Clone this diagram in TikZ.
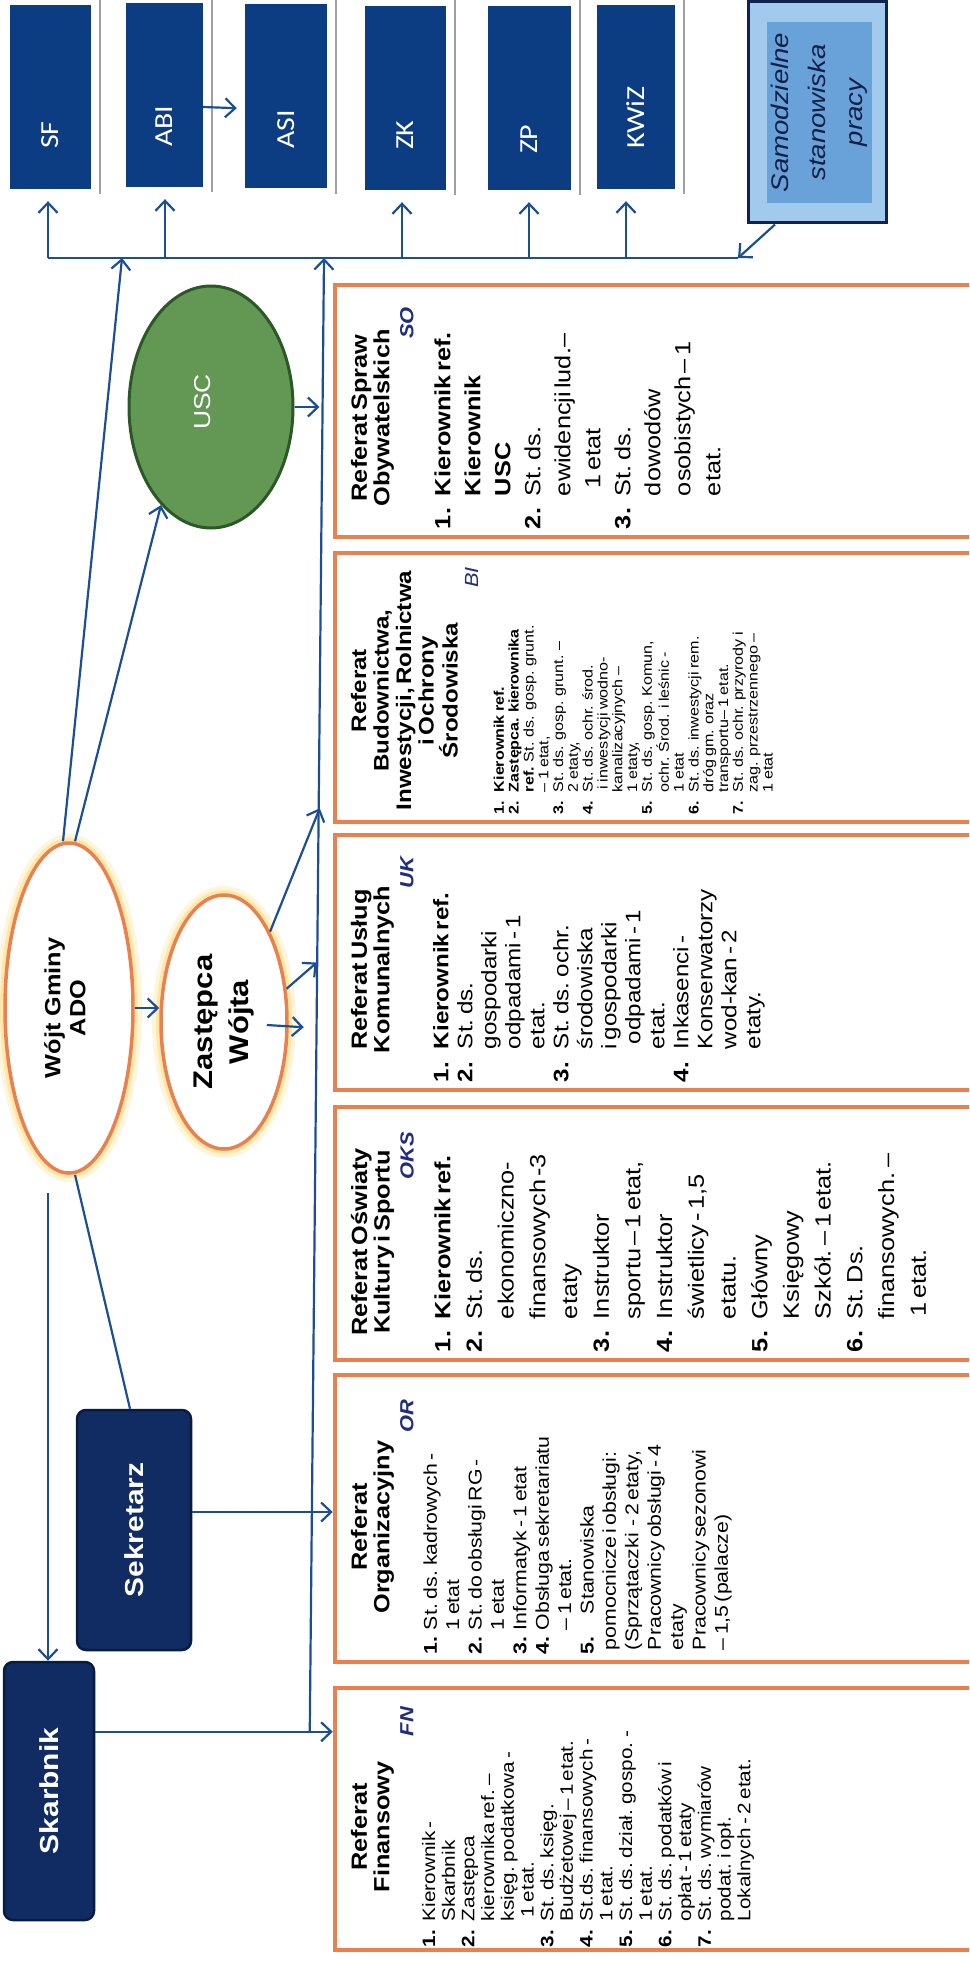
\documentclass[tikz,border=0pt]{standalone}
\usepackage{fontspec}
\setmainfont{Liberation Sans}[FakeStretch=1.15]
\newfontfamily\calibfont{Carlito}[FakeStretch=1.15]
\usetikzlibrary{arrows.meta,shapes.geometric,calc}
\definecolor{navy}{RGB}{12,60,130}
\definecolor{darknavy}{RGB}{16,44,98}
\definecolor{darkborder}{RGB}{8,28,66}
\definecolor{lineblue}{RGB}{28,78,150}
\definecolor{orangec}{RGB}{234,128,78}
\definecolor{codeblue}{RGB}{32,44,128}
\definecolor{uscfill}{RGB}{98,152,84}
\definecolor{uscborder}{RGB}{44,88,40}
\definecolor{samborder}{RGB}{16,34,78}
\definecolor{samfill}{RGB}{162,202,236}
\definecolor{saminner}{RGB}{104,162,216}
\definecolor{samtext}{RGB}{18,32,72}
\definecolor{glow}{RGB}{255,214,110}
\definecolor{shadowgray}{RGB}{160,160,160}
\newcommand{\ttl}{\bfseries\fontsize{22}{22.5}\selectfont}
\newcommand{\cdeline}[1]{{\raggedleft\bfseries\itshape\fontsize{19}{24}\selectfont\color{codeblue}#1\par}}
\begin{document}
\begin{tikzpicture}[x=1pt,y=-1pt,
  topbox/.style={fill=navy, draw=none, inner sep=0pt, minimum height=184pt},
  toplabel/.style={rotate=90, text=white, inner sep=0pt, anchor=west, font=\calibfont\fontsize{26}{30}\selectfont},
  darkbox/.style={fill=darknavy, draw=darkborder, line width=2.5pt, rounded corners=9pt, inner sep=0pt},
  darklabel/.style={rotate=90, text=white, inner sep=0pt, font=\bfseries\fontsize{26}{30}\selectfont},
  oval/.style={ellipse, draw=orangec, line width=3.5pt, fill=white, inner sep=0pt,
    preaction={draw=glow, fill=none, line width=18pt, draw opacity=0.25},
    preaction={draw=glow, fill=none, line width=10pt, draw opacity=0.45}},
  ovallabel/.style={rotate=90, inner sep=0pt, align=center},
  deptbox/.style={draw=orangec, line width=4.5pt, fill=white, inner sep=0pt, minimum width=650pt},
  depttext/.style={rotate=90, inner sep=0pt, anchor=north west, align=left},
  conn/.style={draw=lineblue, line width=2.2pt},
  arr/.style={conn, -{Straight Barb[length=10pt,width=19pt,line width=2.2pt]}},
  shadowline/.style={draw=shadowgray, line width=1.5pt}]
\useasboundingbox (0,0) rectangle (969,1961);
\clip (0,0) rectangle (969,1961);

% ---------- top row ----------
\node[topbox, minimum width=81pt] (sf) at (50.5,97) {};
\node[topbox, minimum width=77pt] (abi) at (164.5,95) {};
\node[topbox, minimum width=82pt] (asi) at (286,96.5) {};
\node[topbox, minimum width=81pt] (zk) at (405.5,98) {};
\node[topbox, minimum width=83pt] (zp) at (529.5,98) {};
\node[topbox, minimum width=78pt] (kwiz) at (636,97) {};
\foreach \b in {sf,abi,asi,zk,zp,kwiz}
  \draw[shadowline] ($(\b.north east)+(9,-10)$) -- ($(\b.south east)+(9,5)$);
\node[toplabel] (sfT) at ($(sf.south)+(0,-40)$) {SF};
\node[toplabel] (abiT) at ($(abi.south)+(0,-40)$) {ABI};
\node[toplabel] (asiT) at ($(asi.south)+(0,-40)$) {ASI};
\node[toplabel] (zkT) at ($(zk.south)+(0,-40)$) {ZK};
\node[toplabel] (zpT) at ($(zp.south)+(0,-36)$) {ZP};
\node[toplabel] (kwizT) at ($(kwiz.south)+(0,-40)$) {KWiZ};

\node[fill=samfill, draw=samborder, line width=3pt, inner sep=0pt, minimum width=138pt, minimum height=221pt] (sam) at (817,112.5) {};
\node[fill=saminner, inner sep=0pt, minimum width=105pt, minimum height=181pt] (samIn) at (819.5,112.5) {};
\node[rotate=90, align=center, text=samtext, inner sep=0pt, font=\itshape\fontsize{24}{37}\selectfont] (samT) at (samIn) {Samodzielne\\stanowiska\\pracy};

% ---------- bus ----------
\coordinate (bSF) at (48,258);
\coordinate (bW) at (122,258);
\coordinate (bABI) at (165,258);
\coordinate (bV) at (324,258);
\coordinate (bZK) at (402,258);
\coordinate (bZP) at (529,258);
\coordinate (bKW) at (626,258);
\coordinate (bEnd) at (738,258);

% ---------- department boxes ----------
\node[deptbox, minimum height=252pt] (so) at (660,411) {};
\node[deptbox, minimum height=269pt] (bi) at (660,687.5) {};
\node[deptbox, minimum height=255pt] (uk) at (660,962.5) {};
\node[deptbox, minimum height=253pt] (oks) at (660,1233.5) {};
\node[deptbox, minimum height=287pt] (or) at (660,1518.5) {};
\node[deptbox, minimum height=262pt] (fn) at (660,1819) {};

% SO
\node[depttext, text width=222pt] (soT) at ($(so.south west)+(18,-10)$) {%
{\centering\ttl Referat Spraw\par Obywatelskich\par}
\cdeline{SO}
\vspace{7pt}
{\fontsize{22}{30}\selectfont
\begin{tabular}[t]{@{}p{33pt}@{}l@{}}
\textbf{1.} & \textbf{Kierownik ref.}\\
 & \textbf{Kierownik}\\
 & \textbf{USC}\\
\textbf{2.} & St. ds.\\
 & ewidencji lud.–\\
 & \hspace{8pt}1 etat\\
\textbf{3.} & St. ds.\\
 & dowodów\\
 & osobistych – 1\\
 & etat.
\end{tabular}\par}};

% BI
\node[depttext, text width=247pt] (biT) at ($(bi.south west)+(18,-10)$) {%
{\centering\bfseries\fontsize{21}{22.5}\selectfont Referat\par Budownictwa,\par Inwestycji, Rolnictwa\par i Ochrony\par Środowiska\par}
{\raggedleft\itshape\fontsize{19}{20.5}\selectfont\color{codeblue}BI\par}
\vspace{11pt}
{\fontsize{14}{14.8}\selectfont
\begin{tabular}[t]{@{}p{22pt}@{}l@{}}
\textbf{1.} & \textbf{Kierownik ref.}\\
\textbf{2.} & \textbf{Zastępca. kierownika}\\
 & \textbf{ref.} St. ds. gosp. grunt.\\
 & – 1 etat,\\
\textbf{3.} & St. ds. gosp. grunt. –\\
 & 2 etaty,\\
\textbf{4.} & St. ds. ochr. środ.\\
 & \hspace{3pt}i inwestycji wodno-\\
 & kanalizacyjnych –\\
 & 1 etaty,\\
\textbf{5.} & St. ds. gosp. Komun,\\
 & ochr. Środ. i leśnic -\\
 & 1 etat\\
\textbf{6.} & St. ds. inwestycji rem.\\
 & dróg gm. oraz\\
 & transportu– 1 etat.\\
\textbf{7.} & St. ds. ochr. przyrody i\\
 & zag. przestrzennego –\\
 & 1 etat
\end{tabular}\par}};

% UK
\node[depttext, text width=225pt] (ukT) at ($(uk.south west)+(18,-10)$) {%
{\centering\ttl Referat Usług\par Komunalnych\par}
\cdeline{UK}
\vspace{11pt}
{\fontsize{21}{24}\selectfont
\begin{tabular}[t]{@{}p{33pt}@{}l@{}}
\textbf{1.} & \textbf{Kierownik ref.}\\
\textbf{2.} & St. ds.\\
 & gospodarki\\
 & odpadami - 1\\
 & etat.\\
\textbf{3.} & St. ds. ochr.\\
 & środowiska\\
 & i gospodarki\\
 & \hspace{5pt}odpadami - 1\\
 & etat.\\
\textbf{4.} & Inkasenci -\\
 & Konserwatorzy\\
 & wod-kan - 2\\
 & etaty.
\end{tabular}\par}};

% OKS
\node[depttext, text width=220pt] (oksT) at ($(oks.south west)+(18,-10)$) {%
{\centering\ttl Referat Oświaty\par Kultury i Sportu\par}
\cdeline{OKS}
\vspace{5pt}
{\fontsize{22}{31.7}\selectfont
\begin{tabular}[t]{@{}p{33pt}@{}l@{}}
\textbf{1.} & \textbf{Kierownik ref.}\\
\textbf{2.} & St. ds.\\
 & ekonomiczno-\\
 & finansowych -3\\
 & etaty\\
\textbf{3.} & Instruktor\\
 & sportu – 1 etat,\\
\textbf{4.} & Instruktor\\
 & świetlicy - 1,5\\
 & etatu.\\
\textbf{5.} & Główny\\
 & Księgowy\\
 & Szkół. – 1 etat.\\
\textbf{6.} & St. Ds.\\
 & finansowych. –\\
 & \hspace{3pt}1 etat.
\end{tabular}\par}};

% OR
\node[depttext, text width=254pt] (orT) at ($(or.south west)+(18,-10)$) {%
{\centering\ttl Referat\par Organizacyjny\par}
\cdeline{OR}
\vspace{1pt}
{\fontsize{18.5}{22.4}\selectfont
\begin{tabular}[t]{@{}p{24pt}@{}l@{}}
\textbf{1.} & St. ds. kadrowych -\\
 & 1 etat\\
\textbf{2.} & St. do obsługi RG -\\
 & 1 etat\\
\textbf{3.} & Informatyk - 1 etat\\
\textbf{4.} & Obsługa sekretariatu\\
 & – 1 etat.\\
\textbf{5.} & \hspace{16pt}Stanowiska\\
\multicolumn{2}{@{}l@{}}{\hspace{4pt}pomocnicze i obsługi:}\\
\multicolumn{2}{@{}l@{}}{\hspace{4pt}(Sprzątaczki \ - 2 etaty,}\\
\multicolumn{2}{@{}l@{}}{\hspace{4pt}Pracownicy obsługi - 4}\\
\multicolumn{2}{@{}l@{}}{\hspace{4pt}etaty}\\
\multicolumn{2}{@{}l@{}}{\hspace{4pt}Pracownicy sezonowi}\\
\multicolumn{2}{@{}l@{}}{\hspace{4pt}– 1,5 (palacze)}
\end{tabular}\par}};

% FN
\node[depttext, text width=240pt] (fnT) at ($(fn.south west)+(18,-5)$) {%
{\centering\ttl Referat\par Finansowy\par}
\cdeline{FN}
\vspace{2pt}
{\fontsize{18}{19.7}\selectfont
\begin{tabular}[t]{@{}p{26pt}@{}l@{}}
\textbf{1.} & Kierownik -\\
 & Skarbnik\\
\textbf{2.} & Zastępca\\
 & kierownika ref. –\\
 & księg. podatkowa -\\
 & \hspace{4pt}1 etat.\\
\textbf{3.} & St. ds. księg.\\
 & Budżetowej – 1 etat.\\
\textbf{4.} & St.ds. finansowych -\\
 & 1 etat.\\
\textbf{5.} & St. ds. dział. gospo. -\\
 & 1 etat.\\
\textbf{6.} & St. ds. podatków i\\
 & opłat - 1 etaty\\
\textbf{7.} & St. ds. wymiarów\\
 & podat. i opł.\\
 & Lokalnych - 2 etat.
\end{tabular}\par}};

% ---------- ellipses ----------
\node[ellipse, fill=uscfill, draw=uscborder, line width=3pt, inner sep=0pt, minimum width=164pt, minimum height=242pt] (usc) at (211,407) {};
\node[rotate=90, text=white, inner sep=0pt, font=\fontsize{23}{26}\selectfont] (uscT) at ($(usc)+(-8,-5)$) {USC};

\node[oval, minimum width=128pt, minimum height=330pt] (wojt) at (69,1008) {};
\node[ovallabel, font=\bfseries\fontsize{22}{25}\selectfont] (wojtT) at ($(wojt)+(-4,0)$) {Wójt Gminy\\ADO};
\node[oval, minimum width=126pt, minimum height=254pt] (zast) at (224,1022) {};
\node[ovallabel, font=\bfseries\fontsize{27}{36}\selectfont] (zastT) at (zast) {Zastępca\\Wójta};

% ---------- Skarbnik / Sekretarz ----------
\node[darkbox, minimum width=90pt, minimum height=258pt] (skarb) at (49,1791) {};
\node[darklabel] (skarbT) at (skarb) {Skarbnik};
\node[darkbox, minimum width=114pt, minimum height=240pt] (sek) at (134,1530) {};
\node[darklabel] (sekT) at (sek) {Sekretarz};

% ---------- coordinates for free ends ----------
\coordinate (tipA) at ($(bi.south west)+(-13,-16)$);
\coordinate (tipB) at ($(uk.west)+(-16,0)$);
\coordinate (tipC) at ($(uk.south west)+(-29,-65)$);
\coordinate (uscTip) at ($(usc.east)+(25,0)$);
\coordinate (vB) at ($(fn.north west)+(-23,46)$);
\coordinate (wsk) at ($(wojt.south)+(-21,18)$);

% ---------- connectors ----------
\draw[conn] (bSF) -- (bEnd);
\draw[arr, shorten >=12pt] (bSF) -- (bSF |- sf.south);
\draw[arr, shorten >=12pt] (bABI) -- (bABI |- abi.south);
\draw[arr, shorten >=12pt] (bZK) -- (bZK |- zk.south);
\draw[arr, shorten >=12pt] (bZP) -- (bZP |- zp.south);
\draw[arr, shorten >=12pt] (bKW) -- (bKW |- kwiz.south);
\draw[arr, shorten >=8pt] ($(abi.east)+(0,12)$) -- ($(asi.west)+(0,12)$);
\draw[arr] ($(sam.south)+(-42,0)$) -- (bEnd);

\draw[arr] ($(wojt.north)+(-6,0)$) -- (bW);
\draw[arr] ($(wojt.north)+(6,0)$) -- (usc.243);
\draw[arr] (wojt.east) -- (wojt.east -| zast.west);
\draw[arr] (zast.63) -- (tipA);
\draw[arr] (zast.28) -- (tipB);
\draw[arr] ($(zast.east)+(-22,3)$) -- (tipC);
\draw[arr] (usc.east) -- (uscTip);
\draw[arr] (vB) -- (bV);
\draw[conn] ($(wojt.south)+(6,0)$) -- ($(sek.north)+(-4,0)$);
\draw[arr] (wsk) -- (wsk |- skarb.north);
\draw[arr] ($(sek.east)+(0,-18)$) coordinate (sA) -- (sA -| or.west);
\draw[arr] (skarb.east |- vB) -- (fn.west |- vB);
\end{tikzpicture}
\end{document}
